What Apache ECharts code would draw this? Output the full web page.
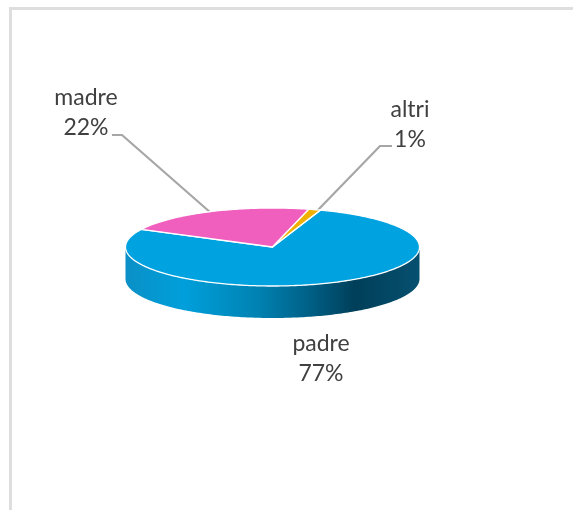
<!DOCTYPE html>
<html><head><meta charset="utf-8">
<style>html,body{margin:0;padding:0;background:#fff}#c{width:573px;height:510px}</style>
<script src="https://cdn.jsdelivr.net/npm/echarts@6/dist/echarts.min.js"></script>
</head><body><div id="c"></div>
<script>
var categories = ['padre', 'madre', 'altri'];
var values = [77.2, 21.5, 1.3];
var sliceColors = ['#00A3E0', '#F05FBE', '#F0B000'];

var START_DEG = 19, CX = 272.5, CY = 247, RX = 147, RY = 39, DEPTH = 32;
var LINE_H = 30;
var labelLayout = {
  padre: {x: 321, y: 344, line: null},
  madre: {x: 86, y: 98, line: [[112, 135], [122, 135], [211, 213]]},
  altri: {x: 410, y: 110, line: [[392, 146], [380, 146], [316, 212]]}
};
var total = values.reduce(function (a, b) { return a + b; }, 0);
var starts = [], acc = START_DEG;
values.forEach(function (v) { starts.push(acc); acc += v / total * 360; });

function pt(deg, dy) {
  var r = deg * Math.PI / 180;
  return [CX + RX * Math.sin(r), CY - RY * Math.cos(r) + (dy || 0)];
}
function arc(a, b, dy) {
  var out = [], n = Math.max(2, Math.ceil(Math.abs(b - a)));
  for (var i = 0; i <= n; i++) out.push(pt(a + (b - a) * i / n, dy));
  return out;
}
var sideGrad = new echarts.graphic.LinearGradient(0, 0, 1, 0, [
  {offset: 0, color: '#0A90C6'},
  {offset: 0.2, color: '#009FDB'},
  {offset: 0.45, color: '#0082B2'},
  {offset: 0.63, color: '#005F85'},
  {offset: 0.78, color: '#003F5A'},
  {offset: 1, color: '#06506F'}
]);
function renderItem(params, api) {
  var i = params.dataIndex, sweep = api.value(0) / total * 360, a = starts[i], b = a + sweep;
  var kids = [];
  var fa = Math.max(a, 90), fb = Math.min(b, 270);
  if (fb > fa) {
    kids.push({type: 'polygon', z2: 1, shape: {points: arc(fa, fb, 0).concat(arc(fb, fa, DEPTH))},
      style: {fill: sideGrad}});
  }
  kids.push({type: 'polygon', z2: 2, shape: {points: [[CX, CY]].concat(arc(a, b, 0))},
    style: {fill: sliceColors[i], stroke: '#fff', lineWidth: 1.3, lineJoin: 'round'}});
  var cat = categories[i], lay = labelLayout[cat];
  if (lay.line) kids.push({type: 'polyline', z2: 0, shape: {points: lay.line},
    style: {fill: null, stroke: '#A6A6A6', lineWidth: 2.2}});
  kids.push({type: 'text', z2: 5, style: {
    x: lay.x, y: lay.y + LINE_H / 2, text: cat + '\n' + Math.round(api.value(0)) + '%',
    align: 'center', verticalAlign: 'middle',
    fill: '#404040', font: '23px Lato', lineHeight: LINE_H
  }});
  return {type: 'group', children: kids};
}
var chart = echarts.init(document.getElementById('c'), null, {renderer: 'canvas'});
chart.setOption({
  animation: false,
  backgroundColor: '#fff',
  graphic: [
    {type: 'polyline', shape: {points: [[10.5, 510], [10.5, 8.5], [573, 8.5]]},
     style: {fill: null, stroke: '#DEDEDE', lineWidth: 3}}
  ],
  series: [{
    type: 'custom', coordinateSystem: 'none', renderItem: renderItem,
    data: values.map(function (v, i) { return {name: categories[i], value: [v]}; })
  }]
});
</script></body></html>
